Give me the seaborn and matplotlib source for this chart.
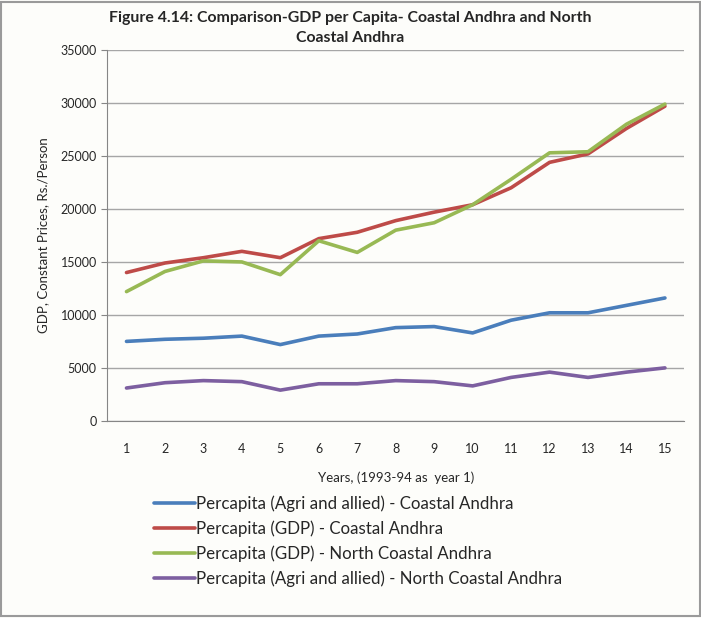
import matplotlib.pyplot as plt
import numpy as np
import pandas as pd
import seaborn as sns

# values
years = list(range(1, 16))
agri_coastal = [7500, 7700, 7800, 8000, 7200, 8000, 8200, 8800, 8900, 8300, 9500, 10200, 10200, 10900, 11600]
gdp_coastal = [14000, 14900, 15400, 16000, 15400, 17200, 17800, 18900, 19700, 20400, 22000, 24400, 25200, 27600, 29700]
gdp_north = [12200, 14100, 15100, 15000, 13800, 17000, 15900, 18000, 18700, 20400, 22800, 25300, 25400, 28000, 29900]
agri_north = [3100, 3600, 3800, 3700, 2900, 3500, 3500, 3800, 3700, 3300, 4100, 4600, 4100, 4600, 5000]

series_names = [
    "Percapita (Agri and allied) - Coastal Andhra",
    "Percapita (GDP) - Coastal Andhra",
    "Percapita (GDP) - North Coastal Andhra",
    "Percapita (Agri and allied) - North Coastal Andhra",
]
colors = ["#4A7EBB", "#BE4B48", "#98B954", "#7D5FA0"]

rows = []
for name, vals in zip(series_names, [agri_coastal, gdp_coastal, gdp_north, agri_north]):
    for yr, v in zip(years, vals):
        rows.append((yr, v, name))
df = pd.DataFrame(rows, columns=["Year", "Value", "Series"])

sns.set_style("white")
plt.rcParams['font.family'] = ['Lato', 'DejaVu Sans']

fig = plt.figure(figsize=(7.01, 6.18), dpi=100, facecolor="#FDFDFA")
ax = fig.add_axes([0.153, 0.319, 0.823, 0.6])
ax.set_facecolor("#FDFDFA")

sns.lineplot(data=df, x="Year", y="Value", hue="Series", hue_order=series_names,
             palette=colors, linewidth=2.6, ax=ax, legend=False)

ax.set_xlim(0.5, 15.5)
ax.set_ylim(0, 35000)
ax.set_yticks(np.arange(0, 35001, 5000))
ax.yaxis.grid(True, color="#A6A6A6", linewidth=1)
ax.set_axisbelow(True)
ax.set_xticks(years)
ax.set_xticks(np.arange(0.5, 15.6, 1), minor=True)
ax.tick_params(axis="x", which="major", length=0, pad=16, labelsize=9)
ax.tick_params(axis="x", which="minor", length=4, color="#868686", width=1)
ax.tick_params(axis="y", which="major", length=4, left=True, color="#868686", labelsize=9)
for s in ["top", "right"]:
    ax.spines[s].set_visible(False)
ax.spines["left"].set_color("#868686")
ax.spines["bottom"].set_color("#868686")

ax.set_xlabel("Years, (1993-94 as  year 1)", fontsize=9.5, labelpad=12)
ax.set_ylabel("GDP, Constant Prices, Rs./Person", fontsize=9.5, labelpad=8)

fig.text(0.5, 0.983, "Figure 4.14: Comparison-GDP per Capita- Coastal Andhra and North\nCoastal Andhra",
         ha="center", va="top", fontsize=11.4, fontweight="bold", linespacing=1.6)

handles = [plt.Line2D([], [], color=c, linewidth=2.6) for c in colors]
fig.legend(handles, series_names, loc="upper left", bbox_to_anchor=(0.22, 0.198),
           frameon=False, fontsize=12.2, handlelength=2.4, handletextpad=0.05,
           labelspacing=0.5, borderaxespad=0, borderpad=0)

# grey frame around the whole figure
fig.patches.append(plt.Rectangle((0.002, 0.003), 0.996, 0.994, transform=fig.transFigure,
                                 fill=False, edgecolor="#9A9A9A", linewidth=1.5))

fig.savefig("out.png", dpi=100, facecolor=fig.get_facecolor())
